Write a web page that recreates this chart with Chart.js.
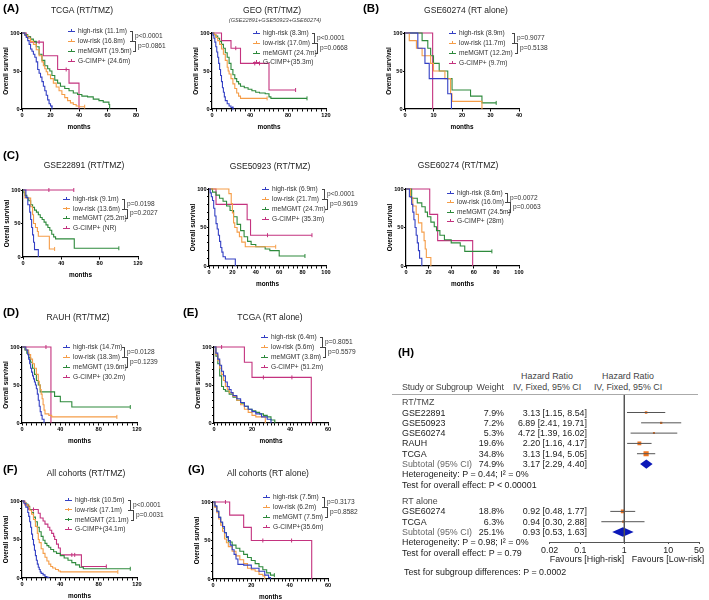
<!DOCTYPE html>
<html>
<head>
<meta charset="utf-8">
<script src="https://cdn.jsdelivr.net/npm/chart.js@4.4.1/dist/chart.umd.min.js"></script>
<style>
  body { margin: 0; background: #fff; }
  #fig { position: relative; width: 709px; height: 600px; overflow: hidden;
         font-family: 'Liberation Sans', Arial, Helvetica, sans-serif; }
  #fig canvas { position: absolute; }
  .t { position: absolute; white-space: nowrap; line-height: 1; }
  .b { position: absolute; box-sizing: content-box; }
</style>
</head>
<body>
<div id="fig"></div>
<script>
// Kaplan-Meier curves: [months, % surviving]
// (A) TCGA RT/TMZ
const tcgaTmzHigh = [[0,100],[2,97],[3,94],[4,90],[5,85],[6,79],[7,76],[8,72],[9,68],[10,62],[11,52],[12,47],[13,42],[14,36],[15,30],[16,24],[17,18],[18,12],[19,7],[20,4],[21,2]];
const tcgaTmzLow = [[0,100],[2,97],[4,93],[6,89],[8,85],[10,78],[12,70],[14,62],[15,57],[16,53],[17,49],[18,45],[20,40],[22,34],[24,29],[26,24],[28,19],[30,15],[32,11],[34,8],[36,6],[38,4],[40,3],[44,3]];
const tcgaTmzMgmt = [[0,100],[2,98],[4,95],[6,92],[8,89],[10,82],[12,72],[14,64],[16,57],[18,53],[19.5,50],[21,44],[23,38],[25,34],[27,30],[30,27],[33,24],[36,21],[39,19],[42,17],[46,16],[50,13],[54,11],[57,9],[61,6],[61.5,0]];
const tcgaTmzCimp = [[0,100],[3,95],[6,88],[15,70],[25,52],[33,34],[40,0]];
const tcgaTmzCimpCens = [[12,88],[31,52]];
const tcgaTmzLabels = ['high-risk (11.1m)', 'low-risk (16.8m)', 'meMGMT (19.5m)', 'G-CIMP+ (24.6m)'];
const tcgaTmzP = ['p<0.0001', 'p=0.0861'];

// GEO RT/TMZ (pooled)
const geoTmzHigh = [[0,100],[1,97],[2,93],[3,88],[4,82],[5,75],[6,68],[7,60],[8,52],[9,44],[10,36],[11,28],[12,22],[13,16],[14,11],[16,7],[18,4],[20,2],[22,1]];
const geoTmzLow = [[0,100],[2,98],[4,94],[6,90],[8,85],[10,79],[12,72],[14,64],[16,55],[17,50],[18,46],[20,40],[22,33],[24,27],[26,21],[28,17],[30,14],[58,14]];
const geoTmzMgmt = [[0,100],[2,98],[4,96],[6,93],[8,89],[10,85],[12,80],[14,74],[16,68],[18,60],[20,52],[22,45],[24,40],[26,36],[28,33],[30,30],[34,28],[38,26],[42,24],[46,22],[50,21],[56,20],[60,16],[62,14],[100,14]];
const geoTmzCimp = [[0,100],[10,90],[20,80],[30,60],[60,25],[88,25]];
const geoTmzCimpCens = [[25,80],[45,60],[50,60]];
const geoTmzLabels = ['high-risk (8.3m)', 'low-risk (17.0m)', 'meMGMT (24.7m)', 'G-CIMP+(35.3m)'];
const geoTmzP = ['p<0.0001', 'p=0.0668'];

// (B) GSE60274 RT alone
const gse60274RtHigh = [[0,100],[4.5,80],[7,60],[8.5,40],[15,20],[16.3,0]];
const gse60274RtLow = [[0,100],[1.5,90],[4,80],[6,70],[9,60],[10,50],[14,40],[16,20],[16.5,10],[27,0]];
const gse60274RtMgmt = [[0,100],[6,90],[8,80],[9,70],[10,60],[12,50],[15,40],[16.5,25],[23,17],[27,8],[32,8]];
const gse60274RtCimp = [[0,100],[9.7,0]];
const gse60274RtLabels = ['high-risk (8.9m)', 'low-risk (11.7m)', 'meMGMT (12.2m)', 'G-CIMP+ (9.7m)'];
const gse60274RtP = ['p=0.9077', 'p=0.5138'];

// (C) GSE22891 RT/TMZ
const gse22891High = [[0,100],[3,89],[5,78],[7,67],[8,56],[9,44],[10,33],[11,22],[12,11],[16,0]];
const gse22891Low = [[0,100],[2,88],[8,75],[10,63],[11,50],[13,44],[15,38],[16,31],[27.5,12],[33,12]];
const gse22891Mgmt = [[0,100],[1,96],[2,92],[4,88],[6,84],[8,78],[10,74],[12,70],[14,67],[16,63],[18,59],[20,56],[22,52],[24,48],[26,44],[28,40],[30,34],[32,30],[34,27],[53.5,13],[100,13]];
const gse22891Cimp = [[0,100],[53,100]];
const gse22891CimpCens = [[27,100]];
const gse22891Labels = ['high-risk (9.1m)', 'low-risk (13.6m)', 'meMGMT (25.2m)', 'G-CIMP+ (NR)'];
const gse22891P = ['p=0.0198', 'p=0.2027'];

// GSE50923 RT/TMZ
const gse50923High = [[0,100],[1,95],[2,90],[3,85],[4,75],[5,65],[6,55],[7,48],[8,40],[9,32],[10,24],[11,18],[12,12],[14,9],[22,9],[22.5,0]];
const gse50923Low = [[0,100],[15,100],[17,94],[19,81],[20,69],[21,56],[22,50],[24,44],[26,38],[28,31],[31,25],[57,25]];
const gse50923Mgmt = [[0,100],[3,96],[6,92],[9,88],[12,84],[15,78],[18,72],[21,64],[24,54],[27,46],[30,38],[33,32],[36,28],[40,25],[48,22],[52,20],[60,13],[82,13]];
const gse50923Cimp = [[0,100],[6,80],[32.6,60],[35.5,40],[88,40]];
const gse50923CimpCens = [[50,40]];
const gse50923Labels = ['high-risk (6.9m)', 'low-risk (21.7m)', 'meMGMT (24.7m)', 'G-CIMP+ (35.3m)'];
const gse50923P = ['p<0.0001', 'p=0.9619'];

// GSE60274 RT/TMZ
const gse60274TmzHigh = [[0,100],[3,90],[5,80],[6,70],[7,60],[8,50],[9,40],[10,30],[11,20],[12,10],[14,0]];
const gse60274TmzLow = [[0,100],[4,89],[6,78],[9,67],[11,56],[14,44],[16,33],[17,22],[18,11],[22,0]];
const gse60274TmzMgmt = [[0,100],[5,88],[10,82],[14,77],[17,70],[19,64],[22,57],[25,51],[27,46],[30,40],[34,34],[40,30],[48,26],[52,19],[76,19]];
const gse60274TmzCimp = [[0,100],[21,67],[28,33],[59,0]];
const gse60274TmzLabels = ['high-risk (8.6m)', 'low-risk (16.0m)', 'meMGMT (24.5m)', 'G-CIMP+ (28m)'];
const gse60274TmzP = ['p=0.0072', 'p=0.0063'];

// (D) RAUH RT/TMZ
const rauhHigh = [[0,100],[4,96],[6,90],[7,84],[8,78],[9,72],[10,67],[11,62],[12,58],[13,54],[14,50],[15,45],[16,38],[17,30],[18,22],[19,15],[20,10],[21,5],[23,0]];
const rauhLow = [[0,100],[4,96],[7,90],[9,84],[11,78],[13,72],[15,64],[17,55],[18,50],[19,44],[20,38],[21,32],[22,24],[23,17],[24,12],[28,10],[31,8],[99,8]];
const rauhMgmt = [[0,100],[3,96],[5,92],[7,86],[9,80],[11,72],[13,64],[15,56],[17,50],[19,41],[34,35],[40,28],[52,21],[113,21]];
const rauhCimp = [[0,100],[30.2,0]];
const rauhCimpCens = [[25,100]];
const rauhLabels = ['high-risk (14.7m)', 'low-risk (18.3m)', 'meMGMT (19.6m)', 'G-CIMP+ (30.2m)'];
const rauhP = ['p=0.0128', 'p=0.1239'];

// (E) TCGA RT alone
const tcgaRtHigh = [[0,100],[1,92],[2,84],[3,76],[4,68],[5,62],[6,54],[7,48],[8,44],[9,40],[10,36],[12,32],[14,27],[16,22],[18,18],[20,15],[22,12],[25,8],[28,5],[30,0]];
const tcgaRtLow = [[0,100],[1,90],[2,82],[3,72],[4,64],[5,56],[6,48],[7,44],[8,40],[10,35],[12,30],[14,24],[16,18],[18,14],[20,10],[22,8],[24,8],[27,0]];
const tcgaRtMgmt = [[0,100],[1,88],[2,78],[3,62],[4,48],[5,44],[6,42],[8,38],[10,34],[12,30],[14,26],[16,22],[18,18],[20,16],[22,14],[24,12],[26,10],[28,8],[30,4],[32,0]];
const tcgaRtCimp = [[0,100],[16,80],[20,60],[51.2,0]];
const tcgaRtCimpCens = [[4,100],[26,60],[41,60]];
const tcgaRtLabels = ['high-risk (6.4m)', 'low-risk (5.6m)', 'meMGMT (3.8m)', 'G-CIMP+ (51.2m)'];
const tcgaRtP = ['p=0.8051', 'p=0.5579'];

// (F) All cohorts RT/TMZ
const allTmzHigh = [[0,100],[2,97],[4,92],[6,85],[7,80],[8,73],[9,66],[10,57],[11,50],[12,43],[13,36],[14,29],[15,23],[16,18],[17,14],[18,11],[19,8],[20,6],[22,4],[24,2],[26,1],[28,0]];
const allTmzLow = [[0,100],[2,98],[4,95],[6,92],[8,88],[10,83],[12,76],[14,67],[16,58],[17,50],[18,46],[20,38],[22,32],[24,27],[26,22],[28,18],[30,15],[32,13],[35,11],[38,9],[40,8],[100,8]];
const allTmzMgmt = [[0,100],[2,98],[4,96],[6,93],[8,89],[10,85],[12,79],[14,73],[16,66],[18,60],[20,54],[22,49],[24,45],[26,42],[28,40],[30,37],[33,34],[36,32],[40,29],[44,26],[48,23],[52,20],[56,17],[60,14],[64,12],[113,12]];
const allTmzCimp = [[0,100],[3,95],[7,89],[17,84],[19,78],[22,74],[24,70],[27,66],[29,62],[31,58],[33,54],[34.1,50],[36,44],[38,39],[40,30],[62,15],[88,15]];
const allTmzCimpCens = [[12,89],[52,30],[55,30]];
const allTmzLabels = ['high-risk (10.5m)', 'low-risk (17.1m)', 'meMGMT (21.1m)', 'G-CIMP+(34.1m)'];
const allTmzP = ['p<0.0001', 'p=0.0031'];

// (G) All cohorts RT alone
const allRtHigh = [[0,100],[1,95],[2,88],[3,80],[4,74],[5,68],[6,60],[7,55],[8,50],[9,44],[10,38],[11,32],[12,26],[13,19],[16,18],[20,14],[24,10],[27,5],[29,2],[30,0]];
const allRtLow = [[0,100],[1,93],[2,86],[3,78],[4,70],[5,62],[6,52],[7,47],[8,42],[10,36],[12,30],[14,25],[16,20],[18,14],[20,12],[22,10],[24,6],[26,4],[27,0]];
const allRtMgmt = [[0,100],[1,94],[2,88],[3,80],[4,73],[5,66],[6,60],[7,54],[8,48],[10,44],[12,40],[14,36],[16,32],[18,28],[20,24],[22,20],[24,16],[26,12],[28,8],[30,5],[32,5]];
const allRtCimp = [[0,100],[8.7,83],[16,67],[20,50],[51.5,0]];
const allRtCimpCens = [[6.5,100],[26,50],[41,50]];
const allRtLabels = ['high-risk (7.5m)', 'low-risk (6.2m)', 'meMGMT (7.5m)', 'G-CIMP+(35.6m)'];
const allRtP = ['p=0.3173', 'p=0.8582'];

// (H) forest plot
const tmzStudies = ['GSE22891', 'GSE50923', 'GSE60274', 'RAUH', 'TCGA'];
const tmzWeight = [7.9, 7.2, 5.3, 19.6, 34.8];
const tmzHR = [3.13, 6.89, 4.72, 2.20, 3.13];
const tmzLo = [1.15, 2.41, 1.39, 1.16, 1.94];
const tmzHi = [8.54, 19.71, 16.02, 4.17, 5.05];
const tmzSubtotal = [74.9, 3.17, 2.29, 4.40]; // weight, hr, lo, hi
const rtStudies = ['GSE60274', 'TCGA'];
const rtWeight = [18.8, 6.3];
const rtHR = [0.92, 0.94];
const rtLo = [0.48, 0.30];
const rtHi = [1.77, 2.88];
const rtSubtotal = [25.1, 0.93, 0.53, 1.63];
const forestTicks = [0.02, 0.1, 1, 10, 50];

const FONT = "'Liberation Sans', Arial, Helvetica, sans-serif";
const COLORS = ['#3440c4', '#f59d48', '#2e8a3c', '#c4337f'];
const fig = document.getElementById('fig');

function label(x, y, text, css) {
  const d = document.createElement('div');
  d.className = 't';
  d.textContent = text;
  d.style.left = x + 'px';
  d.style.top = y + 'px';
  d.style.transform = 'translateY(-50%)';
  Object.assign(d.style, css || {});
  fig.appendChild(d);
  return d;
}

function box(x, y, w, h, css) {
  const d = document.createElement('div');
  d.className = 'b';
  Object.assign(d.style, {left: x + 'px', top: y + 'px', width: w + 'px', height: h + 'px'}, css);
  fig.appendChild(d);
}

function canvasAt(x, y, w, h) {
  const c = document.createElement('canvas');
  c.width = w;
  c.height = h;
  c.style.left = x + 'px';
  c.style.top = y + 'px';
  fig.appendChild(c);
  return c;
}

// every `minor` units a tick mark, a label only on multiples of `major`
function tickList(max, minor) {
  const out = [];
  for (let v = 0; v <= max + 1e-9; v += minor) out.push({value: v});
  return out;
}

const YW = 20; const XH = 22; const PT = 5; const PR = 8;
const tickFont = {family: FONT, size: 5.6, weight: 'bold'};
const axisFont = {family: FONT, size: 6.4, weight: 'bold'};

function kmPanel(p) {
  const [l, t, r, b] = p.box;
  const ctx = canvasAt(l - YW, t - PT, r - l + YW + PR, b - t + PT + XH);
  const datasets = [];
  p.curves.forEach((curve, i) => {
    datasets.push({
      data: curve.map((d) => ({x: d[0], y: d[1]})),
      showLine: true, stepped: 'before', borderColor: COLORS[i],
      borderWidth: 1.1, pointRadius: 0, fill: false, clip: 6,
    });
    const cens = (p.censors[i] || []).slice();
    const last = curve[curve.length - 1];
    if (last[1] > 0) cens.push(last);
    datasets.push({
      data: cens.map((d) => ({x: d[0], y: d[1]})),
      showLine: false, pointStyle: 'line', rotation: 90, pointRadius: 2,
      borderColor: COLORS[i], borderWidth: 1, clip: 6,
    });
  });
  const xMinor = p.xMinor || p.xStep;
  const yMinor = p.yMinor || 50;
  new Chart(ctx, {
    type: 'scatter',
    data: {datasets},
    options: {
      responsive: false, animation: false, events: [],
      layout: {padding: {top: PT, right: PR, left: 0, bottom: 0}},
      plugins: {legend: {display: false}, tooltip: {enabled: false}},
      scales: {
        x: {
          type: 'linear', min: 0, max: p.xMax,
          afterBuildTicks: (s) => { s.ticks = tickList(p.xMax, xMinor); },
          afterFit: (s) => { s.height = XH; },
          ticks: {font: tickFont, color: '#000', padding: 1, maxRotation: 0, autoSkip: false,
            callback: (v) => (Math.abs(v % p.xStep) < 1e-6 ? String(v) : '')},
          grid: {drawOnChartArea: false, tickLength: 2.5, color: '#000'},
          border: {color: '#000', width: 1.2},
          title: {display: true, text: 'months', font: axisFont, color: '#000', padding: 0},
        },
        y: {
          min: 0, max: 100,
          afterBuildTicks: (s) => { s.ticks = tickList(100, yMinor); },
          afterFit: (s) => { s.width = YW; },
          ticks: {font: tickFont, color: '#000', padding: 0.5, autoSkip: false,
            callback: (v) => (v % 50 === 0 ? String(v) : '')},
          grid: {drawOnChartArea: false, tickLength: 2, color: '#000'},
          border: {color: '#000', width: 1.2},
          title: {display: true, text: 'Overall survival', font: axisFont, color: '#000', padding: 0},
        },
      },
    },
  });

  // legend, drawn as text beside the curves
  p.labels.forEach((name, i) => {
    const y = p.legendY[i];
    box(p.legendX, y - 0.5, 7, 0, {borderTop: '1px solid ' + COLORS[i]});
    box(p.legendX + 3, y - 2, 0, 3, {borderLeft: '1px solid ' + COLORS[i]});
    label(p.legendX + 10, y, name, {fontSize: '6.6px', color: '#333'});
  });
  const [y1, y2, y3] = p.legendY;
  const bx = p.bracketX;
  box(bx - 2, y1, 2, y2 - y1 - 1, {border: '0.8px solid #444', borderLeft: 'none'});
  box(bx + 1, y2, 2, y3 - y2 - 1, {border: '0.8px solid #444', borderLeft: 'none'});
  label(bx + 3, (y1 + y2) / 2, p.pvals[0], {fontSize: '6.6px', color: '#333'});
  label(bx + 6, (y2 + y3) / 2, p.pvals[1], {fontSize: '6.6px', color: '#333'});

  label(p.titleAt[0], p.titleAt[1], p.title,
      {fontSize: '8.5px', color: '#222', transform: 'translate(-50%,-50%)'});
}

function panelLetter(x, y, s) {
  label(x, y, s, {fontSize: '11.5px', fontWeight: 'bold', color: '#000'});
}

const panels = [
  {title: 'TCGA (RT/TMZ)', titleAt: [82, 10], box: [22, 33, 136, 109], xMax: 80, xStep: 20,
    curves: [tcgaTmzHigh, tcgaTmzLow, tcgaTmzMgmt, tcgaTmzCimp], censors: [[], [], [], tcgaTmzCimpCens],
    labels: tcgaTmzLabels, pvals: tcgaTmzP, legendX: 68, legendY: [31, 41, 51, 61], bracketX: 132},
  {title: 'GEO (RT/TMZ)', titleAt: [272, 10], box: [212, 33, 326, 109], xMax: 120, xStep: 40, xMinor: 5, yMinor: 10,
    curves: [geoTmzHigh, geoTmzLow, geoTmzMgmt, geoTmzCimp], censors: [[], [], [], geoTmzCimpCens],
    labels: geoTmzLabels, pvals: geoTmzP, legendX: 253, legendY: [33, 43, 53, 62], bracketX: 314},
  {title: 'GSE60274 (RT alone)', titleAt: [466, 10], box: [405, 33, 519, 109], xMax: 40, xStep: 10,
    curves: [gse60274RtHigh, gse60274RtLow, gse60274RtMgmt, gse60274RtCimp], censors: [[], [], [], []],
    labels: gse60274RtLabels, pvals: gse60274RtP, legendX: 449, legendY: [33, 43, 53, 63], bracketX: 514},
  {title: 'GSE22891 (RT/TMZ)', titleAt: [84, 165], box: [23, 190, 138, 257], xMax: 120, xStep: 40,
    curves: [gse22891High, gse22891Low, gse22891Mgmt, gse22891Cimp], censors: [[], [], [], gse22891CimpCens],
    labels: gse22891Labels, pvals: gse22891P, legendX: 63, legendY: [199, 208.5, 218, 228], bracketX: 124},
  {title: 'GSE50923 (RT/TMZ)', titleAt: [270, 166], box: [209, 189, 326, 266], xMax: 100, xStep: 20, xMinor: 4, yMinor: 10,
    curves: [gse50923High, gse50923Low, gse50923Mgmt, gse50923Cimp], censors: [[], [], [], gse50923CimpCens],
    labels: gse50923Labels, pvals: gse50923P, legendX: 262, legendY: [189, 199, 209, 219], bracketX: 324},
  {title: 'GSE60274 (RT/TMZ)', titleAt: [458, 165], box: [406, 189, 519, 266], xMax: 100, xStep: 20,
    curves: [gse60274TmzHigh, gse60274TmzLow, gse60274TmzMgmt, gse60274TmzCimp], censors: [[], [], [], []],
    labels: gse60274TmzLabels, pvals: gse60274TmzP, legendX: 447, legendY: [193, 202, 212, 221], bracketX: 507},
  {title: 'RAUH (RT/TMZ)', titleAt: [78, 317], box: [22, 347, 137, 423], xMax: 120, xStep: 40, xMinor: 5, yMinor: 10,
    curves: [rauhHigh, rauhLow, rauhMgmt, rauhCimp], censors: [[], [], [], rauhCimpCens],
    labels: rauhLabels, pvals: rauhP, legendX: 63, legendY: [347, 357, 367, 377], bracketX: 124},
  {title: 'TCGA (RT alone)', titleAt: [270, 317], box: [214, 347, 328, 423], xMax: 60, xStep: 20, xMinor: 2, yMinor: 10,
    curves: [tcgaRtHigh, tcgaRtLow, tcgaRtMgmt, tcgaRtCimp], censors: [[], [], [], tcgaRtCimpCens],
    labels: tcgaRtLabels, pvals: tcgaRtP, legendX: 261, legendY: [337, 347, 357, 367], bracketX: 322},
  {title: 'All cohorts (RT/TMZ)', titleAt: [86, 473], box: [22, 501, 137, 578], xMax: 120, xStep: 40, xMinor: 5, yMinor: 10,
    curves: [allTmzHigh, allTmzLow, allTmzMgmt, allTmzCimp], censors: [[], [], [], allTmzCimpCens],
    labels: allTmzLabels, pvals: allTmzP, legendX: 65, legendY: [500, 509.5, 519.5, 529], bracketX: 130},
  {title: 'All cohorts (RT alone)', titleAt: [268, 473], box: [213, 502, 328, 579], xMax: 60, xStep: 20, xMinor: 2, yMinor: 10,
    curves: [allRtHigh, allRtLow, allRtMgmt, allRtCimp], censors: [[], [], [], allRtCimpCens],
    labels: allRtLabels, pvals: allRtP, legendX: 263, legendY: [497, 507, 517, 527], bracketX: 324},
];
panels.forEach(kmPanel);

label(275, 21, '(GSE22891+GSE50923+GSE60274)',
    {fontSize: '5.6px', fontStyle: 'italic', color: '#444', transform: 'translate(-50%,-50%)'});
panelLetter(3, 9, '(A)');
panelLetter(363, 9, '(B)');
panelLetter(3, 156, '(C)');
panelLetter(3, 313, '(D)');
panelLetter(183, 313, '(E)');
panelLetter(3, 470, '(F)');
panelLetter(188, 470, '(G)');
panelLetter(398, 353, '(H)');

// ---- (H) forest plot ----
const ROW_H = 10.3;
const Y_MIN = -0.7;
const Y_MAX = 13.57;
const rowY = (r) => 395 + (r - Y_MIN) * ROW_H;
const hrText = (hr, lo, hi) => `${hr.toFixed(2)} [${lo.toFixed(2)}, ${hi.toFixed(2)}]`;
const fs = {fontSize: '8.9px', color: '#1a1a1a'};
const gray = {fontSize: '8.9px', color: '#666'};
const head = {fontSize: '8.9px', color: '#444'};
const right = (css) => Object.assign({}, css, {transform: 'translate(-100%,-50%)'});
const center = (css) => Object.assign({}, css, {transform: 'translate(-50%,-50%)'});

label(547, 376, 'Hazard Ratio', center(head));
label(547, 387, 'IV, Fixed, 95% CI', center(head));
label(628, 376, 'Hazard Ratio', center(head));
label(628, 387, 'IV, Fixed, 95% CI', center(head));
label(402, 387, 'Study or Subgroup', Object.assign({}, head, {letterSpacing: '-0.2px'}));
label(504, 387, 'Weight', right(head));
box(392, 394, 306, 0, {borderTop: '1.5px solid #aaa'});

function forestGroup(name, r0, studies, weight, hr, lo, hi, sub, het, test) {
  label(402, rowY(r0 - 1), name, head);
  studies.forEach((s, i) => {
    const y = rowY(r0 + i);
    label(402, y, s, fs);
    label(504, y, weight[i].toFixed(1) + '%', right(fs));
    label(587, y, hrText(hr[i], lo[i], hi[i]), right(fs));
  });
  const ys = rowY(r0 + studies.length);
  label(402, ys, 'Subtotal (95% CI)', gray);
  label(504, ys, sub[0].toFixed(1) + '%', right(fs));
  label(587, ys, hrText(sub[1], sub[2], sub[3]), right(fs));
  label(402, rowY(r0 + studies.length + 1), het, fs);
  label(402, rowY(r0 + studies.length + 2), test, fs);
}
forestGroup('RT/TMZ', 1, tmzStudies, tmzWeight, tmzHR, tmzLo, tmzHi, tmzSubtotal,
    'Heterogeneity: P = 0.44; I² = 0%', 'Test for overall effect: P < 0.00001');
forestGroup('RT alone', 10.6, rtStudies, rtWeight, rtHR, rtLo, rtHi, rtSubtotal,
    'Heterogeneity: P = 0.98; I² = 0%', 'Test for overall effect: P = 0.79');
label(404, 572, 'Test for subgroup differences: P = 0.0002', fs);
label(587, 559, 'Favours [High-risk]', center(fs));
label(668, 559, 'Favours [Low-risk]', center(fs));

function forestDatasets(r0, hr, lo, hi, weight, sub) {
  const out = [];
  hr.forEach((v, i) => {
    const y = r0 + i;
    out.push({type: 'line', data: [{x: lo[i], y}, {x: hi[i], y}],
      borderColor: '#555', borderWidth: 1, pointRadius: 0});
    out.push({type: 'scatter', data: [{x: v, y}], pointStyle: 'rect',
      pointRadius: 0.62 * Math.sqrt(weight[i]), backgroundColor: '#f0731e', borderWidth: 0});
  });
  const ys = r0 + hr.length;
  out.push({type: 'scatter', showLine: true, fill: 'shape', pointRadius: 0, borderWidth: 0,
    backgroundColor: '#0b18b8', borderColor: '#0b18b8',
    data: [{x: sub[2], y: ys}, {x: sub[1], y: ys - 0.45}, {x: sub[3], y: ys},
      {x: sub[1], y: ys + 0.45}, {x: sub[2], y: ys}]});
  return out;
}

const fctx = canvasAt(540, 390, 169, 166);
new Chart(fctx, {
  type: 'scatter',
  data: {
    datasets: [
      {type: 'line', data: [{x: 1, y: Y_MIN}, {x: 1, y: Y_MAX}], borderColor: '#555', borderWidth: 1, pointRadius: 0},
      ...forestDatasets(1, tmzHR, tmzLo, tmzHi, tmzWeight, tmzSubtotal),
      ...forestDatasets(10.6, rtHR, rtLo, rtHi, rtWeight, rtSubtotal),
    ],
  },
  options: {
    responsive: false, animation: false, events: [],
    layout: {padding: {top: 5, right: 10, left: 9, bottom: 0}},
    plugins: {legend: {display: false}, tooltip: {enabled: false}},
    scales: {
      x: {
        type: 'logarithmic', min: 0.02, max: 50,
        afterBuildTicks: (s) => { s.ticks = forestTicks.map((v) => ({value: v})); },
        afterFit: (s) => { s.height = 14; },
        ticks: {font: {family: FONT, size: 8.9}, color: '#1a1a1a', padding: 1, maxRotation: 0,
          autoSkip: false, callback: (v) => String(v)},
        grid: {drawOnChartArea: false, tickLength: 2, color: '#555'},
        border: {color: '#555', width: 1},
      },
      y: {type: 'linear', min: Y_MIN, max: Y_MAX, reverse: true, display: false},
    },
  },
});
</script>
</body>
</html>
